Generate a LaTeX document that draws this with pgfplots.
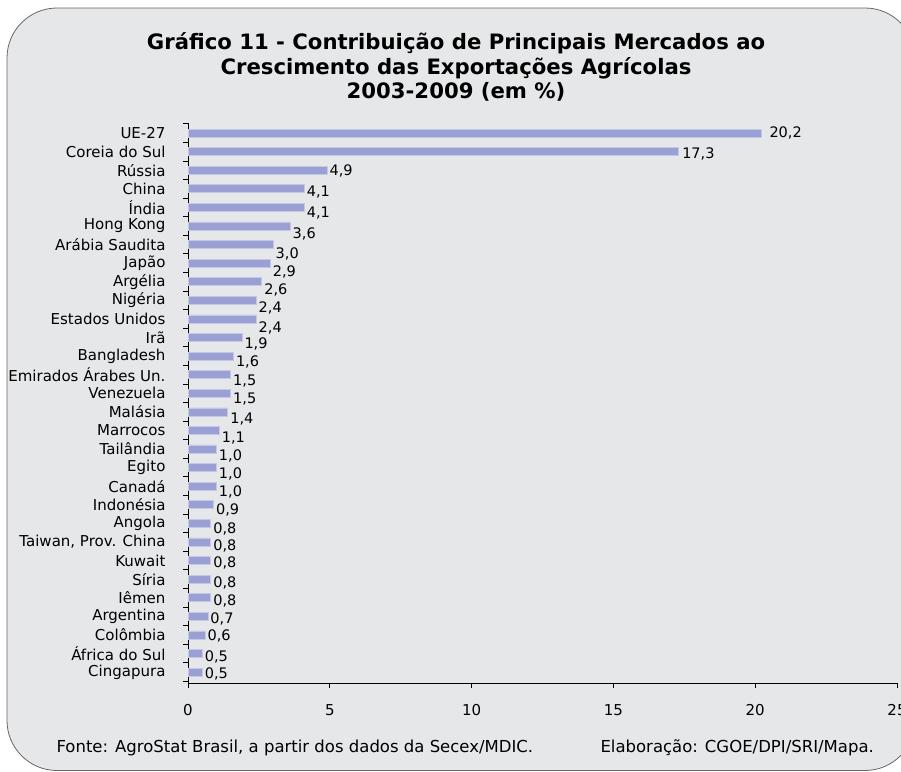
\documentclass[border=0pt]{standalone}
\usepackage{pgfplots}
\pgfplotsset{compat=1.18}
\usepackage{fontspec}
\setmainfont{DejaVu Sans}
\definecolor{bg}{RGB}{230,231,233}
\definecolor{barfill}{RGB}{155,160,212}
\definecolor{baredge}{RGB}{196,200,230}
\pgfplotstableread[col sep=comma]{
idx,val,dx,dy
0,0.5,1,2
1,0.5,1,4
2,0.6,1,1
3,0.7,1,3
4,0.8,1,3
5,0.8,1,4
6,0.8,1,2
7,0.8,1,4
8,0.8,1,6
9,0.9,1,5
10,1.0,1,6
11,1.0,1,6
12,1.0,1,7
13,1.1,1,8
14,1.4,1,7
15,1.5,1,6
16,1.5,1,6
17,1.6,1,6
18,1.9,1,6
19,2.4,1,9
20,2.4,1,8
21,2.6,1,8
22,2.9,1,9
23,3.0,1,9
24,3.6,1,8
25,4.1,1,6
26,4.1,1,3
27,4.9,1,1
28,17.3,2,2
29,20.2,7,0
}\datatable
\begin{document}
\begin{tikzpicture}[x=1pt,y=1pt]
\path[use as bounding box] (0,0) rectangle (901,771);
\begin{scope}
\clip (0,0) rectangle (901,771);
\draw[fill=bg, draw=black!60, line width=0.8pt, rounded corners=50pt] (7,0.5) rectangle (915,763);
\end{scope}
\node[align=center, font=\fontsize{21.2}{24.5}\selectfont\bfseries] at (456,704) {Gráfico 11 - Contribuição de Principais Mercados ao\\Crescimento das Exportações Agrícolas\\2003-2009 (em \%)};
\begin{axis}[
  at={(188pt,88pt)}, anchor=south west,
  scale only axis, width=709pt, height=560pt,
  xmin=0, xmax=25, ymin=-0.59, ymax=29.54,
  axis x line*=bottom, axis y line*=left,
  axis line style={black, line width=0.8pt},
  xtick={0,5,...,25},
  ytick={-0.5,0.5,...,29.5},
  yticklabels={{},Cingapura,África do Sul,Colômbia,Argentina,Iêmen,Síria,Kuwait,{Taiwan, Prov. China},Angola,Indonésia,Canadá,Egito,Tailândia,Marrocos,Malásia,Venezuela,Emirados Árabes Un.,Bangladesh,Irã,Estados Unidos,Nigéria,Argélia,Japão,Arábia Saudita,Hong Kong,Índia,China,Rússia,Coreia do Sul,UE-27},
  major tick length=5pt,
  tick style={black, line width=0.8pt},
  tick align=outside,
  /pgf/number format/assume math mode=true,
  /pgf/number format/use comma,
  ticklabel style={font=\fontsize{15}{16}\selectfont, text=black},
  xticklabel style={yshift=-13pt},
  yticklabel style={xshift=-14pt, yshift=-9.3pt},
  xbar, bar width=8pt,
  visualization depends on={\thisrow{dx} \as \ldx},
  visualization depends on={\thisrow{dy} \as \ldy},
  nodes near coords={\pgfmathprintnumber[fixed,fixed zerofill,precision=1,use comma,assume math mode=true]{\pgfplotspointmeta}},
  nodes near coords style={font=\fontsize{14.5}{16}\selectfont, anchor=west, xshift={\ldx*1pt-2pt}, yshift={-\ldy*1pt}, text=black},
  point meta=explicit,
]
\addplot[fill=barfill, draw=baredge, line width=0.6pt] table[x=val, y=idx, meta=val] {\datatable};
\end{axis}
\node[anchor=west, font=\fontsize{16.5}{18}\selectfont] at (53,23) {Fonte: AgroStat Brasil, a partir dos dados da Secex/MDIC.};
\node[anchor=west, font=\fontsize{16.5}{18}\selectfont] at (597,23) {Elaboração: CGOE/DPI/SRI/Mapa.};
\end{tikzpicture}
\end{document}
